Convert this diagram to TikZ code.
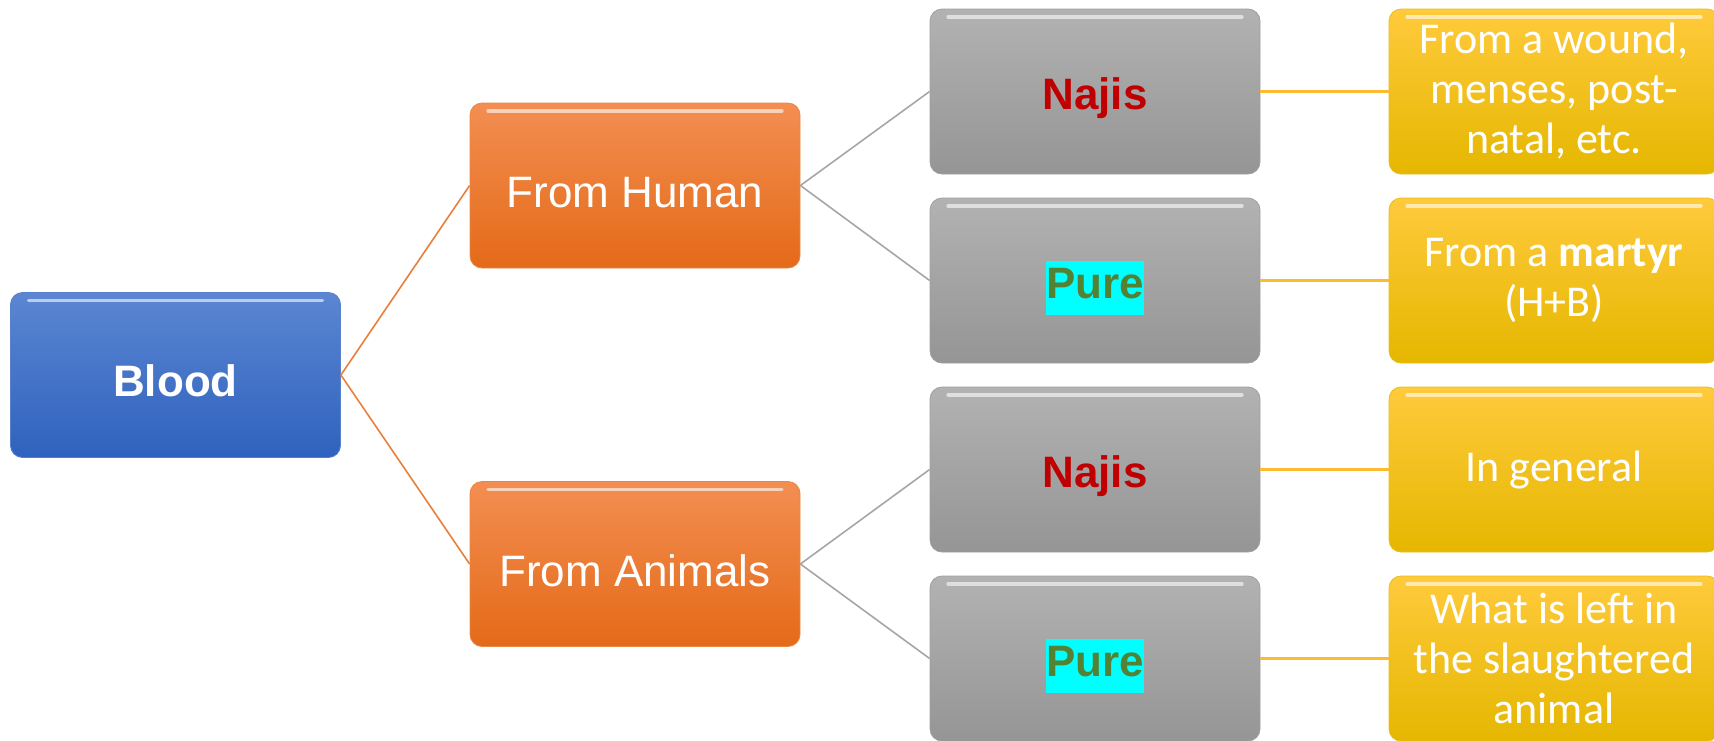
\documentclass[tikz,border=0pt]{standalone}
\usepackage{fontspec}
\setmainfont{Liberation Sans}
\newfontfamily\calibri{Carlito}
\definecolor{rootTop}{HTML}{5B86D2}
\definecolor{rootBot}{HTML}{2F62BE}
\definecolor{kindTop}{HTML}{F38E52}
\definecolor{kindBot}{HTML}{E46A18}
\definecolor{ruleTop}{HTML}{B2B2B2}
\definecolor{ruleBot}{HTML}{959595}
\definecolor{caseTop}{HTML}{FFCA3C}
\definecolor{caseBot}{HTML}{E5B700}
\definecolor{najisRed}{HTML}{C00000}
\definecolor{pureGreen}{HTML}{548235}
\definecolor{pureMark}{HTML}{00FFFF}
\usetikzlibrary{arrows}
\tikzset{
  {base box/.style} ={rectangle, rounded corners=6pt, minimum width=165pt,
                minimum height=82.5pt, align=center, inner sep=2pt,
                path picture={\draw[white,opacity=.6,line width=1.6pt,line cap=round]
                  ([xshift=9pt,yshift=-4pt]path picture bounding box.north west) --
                  ([xshift=-9pt,yshift=-4pt]path picture bounding box.north east);}},
  {root box/.style} ={base box, draw=rootBot!80, top color=rootTop,
                bottom color=rootBot, text=white,
                font=\bfseries\fontsize{22}{26}\selectfont},
  {kind box/.style} ={base box, draw=kindBot!80, top color=kindTop,
                bottom color=kindBot, text=white,
                font=\fontsize{22}{26}\selectfont},
  {rule box/.style} ={base box, draw=ruleBot!90, top color=ruleTop,
                bottom color=ruleBot, font=\bfseries\fontsize{22}{27}\selectfont},
  {case box/.style} ={base box, draw=caseBot!90, top color=caseTop,
                bottom color=caseBot, text=white,
                font=\calibri\fontsize{22}{25}\selectfont},
  {root edge/.style} ={draw, line width=0.8pt, kindBot!85},
  {kind edge/.style} ={draw, line width=0.8pt, black!35},
  {case edge/.style} ={draw, line width=1.2pt, caseTop!80!orange},
}
% lower a label a little without changing its box
\newcommand{\low}[2]{\raisebox{-#1}[\height][\depth]{#2}}
\newcommand{\najis}{\low{3.5pt}{\textcolor{najisRed}{Najis}}}
\newcommand{\pure}{{\setlength{\fboxsep}{0pt}\low{3.5pt}{\colorbox{pureMark}{\strut\textcolor{pureGreen}{Pure}}}}}

\begin{document}
\begin{tikzpicture}[x=0.5pt,y=-0.5pt]
\useasboundingbox (0,0) rectangle (1714,740);
% root and kinds
\node[root box] (blood) at (175.5,375) {\low{2.7pt}{Blood}};
\node[kind box] (human) at (635,185.5) {\low{3.5pt}{From Human}};
\node[kind box] (animals) at (635,564) {\low{3.5pt}{From Animals}};
% rulings
\node[rule box] (najisH) at (1095,91.5) {\najis};
\node[rule box] (pureH) at (1095,280.5) {\pure};
\node[rule box] (najisA) at (1095,469.5) {\najis};
\node[rule box] (pureA) at (1095,658.5) {\pure};
% cases
\node[case box] (wound) at (1554,91.5) {From a wound,\\menses, post-\\natal, etc.};
\node[case box] (martyr) at (1554,280.5) {From a \textbf{martyr}\\(H+B)};
\node[case box] (general) at (1554,469.5) {In general};
\node[case box] (left) at (1554,658.5) {What is left in\\the slaughtered\\animal};
\path[root edge] (blood.east) -- (human.west)
                 (blood.east) -- (animals.west);
\path[kind edge] (human.east) -- (najisH.west)
                 (human.east) -- (pureH.west)
                 (animals.east) -- (najisA.west)
                 (animals.east) -- (pureA.west);
\path[case edge] (najisH.east) -- (wound.west)
                 (pureH.east) -- (martyr.west)
                 (najisA.east) -- (general.west)
                 (pureA.east) -- (left.west);
\end{tikzpicture}
\end{document}
